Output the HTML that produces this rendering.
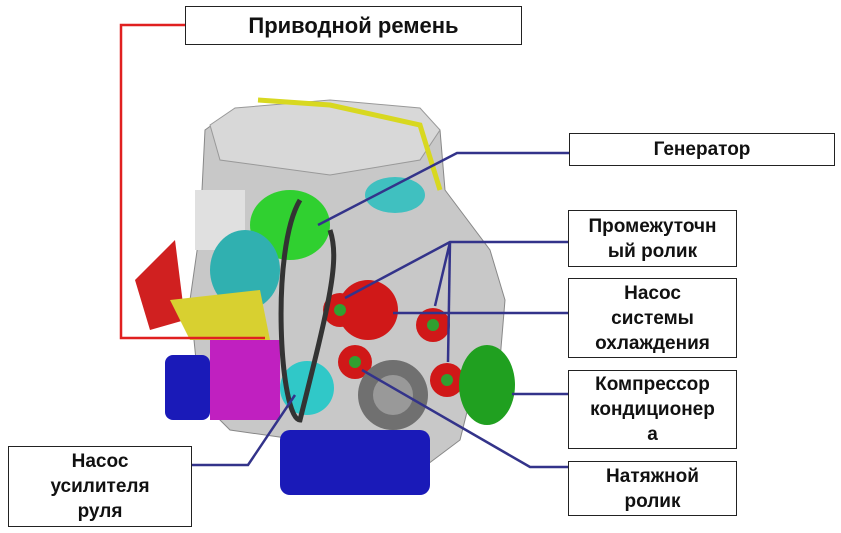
<!DOCTYPE html>
<html><head><meta charset="utf-8"><style>
body{margin:0;width:841px;height:533px;background:#fff;overflow:hidden;position:relative;font-family:"Liberation Sans",sans-serif;}
.b{position:absolute;border:1.5px solid #222;background:#fff;box-sizing:border-box;display:flex;align-items:center;justify-content:center;text-align:center;font-weight:bold;color:#111;line-height:25px;font-size:19px;}
</style></head><body>
<svg width="841" height="533" style="position:absolute;left:0;top:0">
<!-- engine body -->
<polygon points="205,130 230,112 330,102 420,110 440,130 445,190 490,250 505,300 500,360 470,400 460,440 420,470 330,470 300,440 230,430 200,400 190,300 200,230" fill="#c8c8c8" stroke="#888"/>
<polygon points="210,125 235,108 330,100 420,108 440,130 420,160 330,175 220,160" fill="#d8d8d8" stroke="#999"/>
<rect x="280" y="430" width="150" height="65" rx="10" fill="#1a1ab8"/>
<rect x="165" y="355" width="45" height="65" rx="8" fill="#1a1ab8"/>
<path d="M258,100 L330,105 L420,125 L440,190" stroke="#d8d820" stroke-width="5" fill="none"/>
<ellipse cx="395" cy="195" rx="30" ry="18" fill="#40c0c0"/>
<ellipse cx="290" cy="225" rx="40" ry="35" fill="#30d030"/>
<rect x="195" y="190" width="50" height="60" fill="#e0e0e0"/>
<ellipse cx="245" cy="270" rx="35" ry="40" fill="#30b0b0"/>
<polygon points="135,280 175,240 185,320 150,330" fill="#d02020"/>
<polygon points="170,300 260,290 270,340 190,340" fill="#d8d030"/>
<rect x="210" y="340" width="70" height="80" fill="#c020c0"/>
<ellipse cx="368" cy="310" rx="30" ry="30" fill="#d01818"/>
<circle cx="340" cy="310" r="17" fill="#d01818"/><circle cx="340" cy="310" r="6" fill="#30a030"/>
<circle cx="433" cy="325" r="17" fill="#d01818"/><circle cx="433" cy="325" r="6" fill="#30a030"/>
<circle cx="355" cy="362" r="17" fill="#d01818"/><circle cx="355" cy="362" r="6" fill="#30a030"/>
<circle cx="447" cy="380" r="17" fill="#d01818"/><circle cx="447" cy="380" r="6" fill="#30a030"/>
<circle cx="393" cy="395" r="35" fill="#707070"/><circle cx="393" cy="395" r="20" fill="#999"/>
<ellipse cx="487" cy="385" rx="28" ry="40" fill="#20a020"/>
<circle cx="307" cy="388" r="27" fill="#30c8c8"/>
<path d="M300,200 C270,250 280,420 300,420 C330,300 340,260 330,230" stroke="#333" stroke-width="5" fill="none"/>
<!-- lines -->
<polyline points="185,25 121,25 121,338 265,338" stroke="#e02020" stroke-width="2.5" fill="none"/>
<g stroke="#33338a" stroke-width="2.5" fill="none">
<polyline points="569,153 457,153 318,225"/>
<polyline points="568,242 450,242 345,298"/>
<polyline points="450,242 435,306"/>
<polyline points="450,242 448,362"/>
<polyline points="568,313 393,313"/>
<polyline points="568,394 512,394"/>
<polyline points="568,467 530,467 362,370"/>
<polyline points="192,465 248,465 295,395"/>
</g>
</svg>
<div class="b" style="left:185px;top:6px;width:337px;height:39px;font-size:22px">Приводной ремень</div>
<div class="b" style="left:569px;top:133px;width:266px;height:33px">Генератор</div>
<div class="b" style="left:568px;top:210px;width:169px;height:57px">Промежуточн<br>ый ролик</div>
<div class="b" style="left:568px;top:278px;width:169px;height:80px">Насос<br>системы<br>охлаждения</div>
<div class="b" style="left:568px;top:370px;width:169px;height:79px">Компрессор<br>кондиционер<br>а</div>
<div class="b" style="left:568px;top:461px;width:169px;height:55px">Натяжной<br>ролик</div>
<div class="b" style="left:8px;top:446px;width:184px;height:81px">Насос<br>усилителя<br>руля</div>
</body></html>
